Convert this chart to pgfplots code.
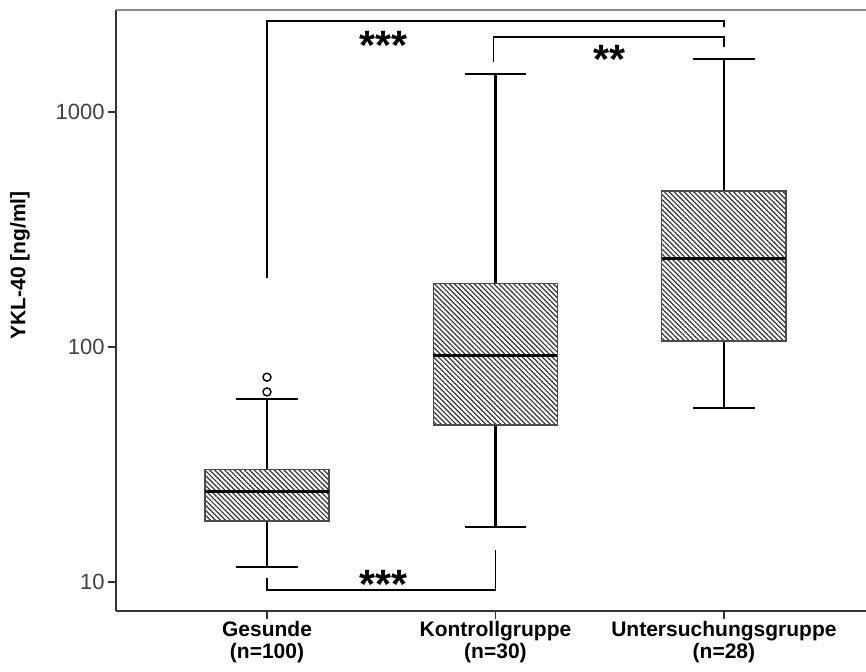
\documentclass[border=0pt]{standalone}
\usepackage{fontspec}
\setmainfont{Liberation Sans}
\usepackage{pgfplots}
\pgfplotsset{compat=1.18}
\usepgfplotslibrary{statistics}
\usetikzlibrary{patterns.meta}
\begin{document}
\begin{tikzpicture}
\begin{axis}[
  at={(0,0)}, anchor=south west,
  scale only axis, width=375pt, height=300.5pt,
  ymode=log, ymin=7.53, ymax=2716,
  xmin=-0.661, xmax=2.622,
  axis lines*=left,
  axis line style={-, black!80, line width=0.75pt},
  ytick={10,100,1000}, yticklabels={10,100,1000},
  yminorticks=false,
  xtick={0,1,2},
  xticklabels={{Gesunde\\(n=100)},{Kontrollgruppe\\(n=30)},{Untersuchungsgruppe\\(n=28)}},
  tick align=outside,
  major tick length=4pt,
  tick style={black!80, line width=0.75pt},
  /pgf/number format/assume math mode=true,
  yticklabel style={font=\fontsize{11}{12}\selectfont, text=black!75, inner sep=1.5pt},
  xticklabel style={font=\fontsize{10.5}{11}\selectfont\bfseries, align=center, text=black, inner sep=1pt},
  ylabel={YKL-40 [ng/ml]},
  ylabel style={at={(axis description cs:-0.128,0.575)}, anchor=center, font=\fontsize{10.5}{12}\selectfont\bfseries},
  boxplot/draw direction=y,
  clip=false,
]
\draw[black!45, line width=1pt] (rel axis cs:0,1) -- (rel axis cs:1,1);
% Gesunde
\addplot[black, line width=0.7pt, mark=o, mark size=2pt, mark options={black, line width=0.7pt},
  boxplot prepared={draw position=0, lower whisker=11.6, lower quartile=18.2, median=24.2,
  upper quartile=30.0, upper whisker=60.1, box extend=0.543, whisker extend=0.27},
  boxplot/every box/.style={draw=black!70, line width=0.6pt, pattern={Lines[angle=-45, distance=1.75pt, line width=0.6pt]}, pattern color=black!80},
  boxplot/every median/.style={black, line width=1.5pt}]
  table[row sep=\\, y index=0] {74.4\\ 64.4\\};
% Kontrollgruppe
\addplot[black, line width=1.1pt,
  boxplot prepared={draw position=1, lower whisker=17.1, lower quartile=46.6, median=91.6,
  upper quartile=187, upper whisker=1452, box extend=0.543, whisker extend=0.27},
  boxplot/every box/.style={draw=black!70, line width=0.6pt, pattern={Lines[angle=-45, distance=1.75pt, line width=0.6pt]}, pattern color=black!80},
  boxplot/every median/.style={black, line width=1.5pt}]
  coordinates {};
% Untersuchungsgruppe
\addplot[black, line width=1.1pt,
  boxplot prepared={draw position=2, lower whisker=55, lower quartile=106, median=237,
  upper quartile=461, upper whisker=1683, box extend=0.543, whisker extend=0.27},
  boxplot/every box/.style={draw=black!70, line width=0.6pt, pattern={Lines[angle=-45, distance=1.75pt, line width=0.6pt]}, pattern color=black!80},
  boxplot/every median/.style={black, line width=1.5pt}]
  coordinates {};
% significance brackets
\addplot[black, line width=0.6pt, mark=none] coordinates {(0,197) (0,2437) (2,2437) (2,2306)};
\addplot[black, line width=0.6pt, mark=none] coordinates {(0.99,1637) (0.99,2086) (2,2086) (2,1897)};
\addplot[black, line width=0.6pt, mark=none] coordinates {(0,10.4) (0,9.25) (1,9.25) (1,13.7)};
\node[font=\fontsize{20.5}{20}\selectfont\bfseries, yshift=-3.5pt] at (axis cs:0.508,2065) {***};
\node[font=\fontsize{20.5}{20}\selectfont\bfseries, yshift=-3.5pt] at (axis cs:1.5,1799) {**};
\node[font=\fontsize{20.5}{20}\selectfont\bfseries, yshift=-3pt] at (axis cs:0.508,10.4) {***};
\end{axis}
\pgfresetboundingbox
\path (-58pt,-30pt) rectangle (375pt,305.5pt);
\end{tikzpicture}
\end{document}
